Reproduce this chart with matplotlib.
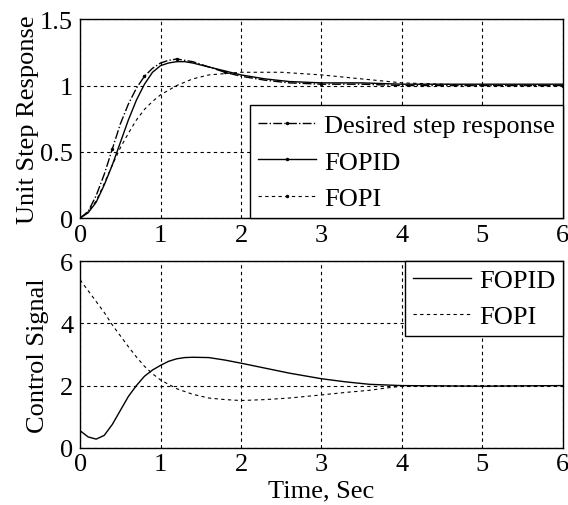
import numpy as np
import matplotlib
matplotlib.use('Agg')
import matplotlib.pyplot as plt

plt.rcParams['font.family'] = ['Liberation Serif', 'DejaVu Serif']
plt.rcParams['font.size'] = 19

# step responses
t_des = [0, 0.1, 0.2, 0.3, 0.4, 0.5, 0.6, 0.7, 0.8, 0.9, 1.0, 1.1, 1.2, 1.3, 1.4, 1.6,
         1.8, 2.0, 2.3, 2.6, 3.0, 3.5, 4.0, 5.0, 6.0]
y_des = [0, 0.05, 0.17, 0.33, 0.52, 0.71, 0.86, 0.98, 1.07, 1.13, 1.17, 1.19, 1.2, 1.19, 1.18,
         1.14, 1.1, 1.07, 1.04, 1.02, 1.01, 1.01, 1.0, 1.0, 1.0]
t_fopid = [0, 0.1, 0.2, 0.3, 0.4, 0.5, 0.6, 0.7, 0.8, 0.9, 1.0, 1.1, 1.2, 1.3, 1.4, 1.6,
           1.8, 2.0, 2.3, 2.6, 3.0, 3.5, 4.0, 5.0, 6.0]
y_fopid = [0, 0.04, 0.12, 0.25, 0.4, 0.57, 0.74, 0.89, 1.01, 1.1, 1.15, 1.17, 1.18, 1.18, 1.17,
           1.14, 1.11, 1.08, 1.05, 1.03, 1.02, 1.02, 1.01, 1.01, 1.01]
t_fopi = [0, 0.1, 0.2, 0.3, 0.4, 0.5, 0.6, 0.7, 0.8, 0.9, 1.0, 1.2, 1.4, 1.6, 1.8, 2.0,
          2.5, 3.0, 3.5, 4.0, 5.0, 6.0]
y_fopi = [0, 0.05, 0.13, 0.26, 0.4, 0.53, 0.64, 0.74, 0.82, 0.88, 0.93, 1.0, 1.05, 1.08, 1.09, 1.1,
          1.1, 1.08, 1.05, 1.02, 1.0, 1.0]

# control signals
t_u1 = [0, 0.1, 0.2, 0.3, 0.4, 0.5, 0.6, 0.7, 0.8, 0.9, 1.0, 1.1, 1.2, 1.3, 1.4, 1.6,
        1.8, 2.0, 2.3, 2.6, 3.0, 3.3, 3.6, 4.0, 5.0, 6.0]
u_fopid = [0.55, 0.35, 0.28, 0.4, 0.75, 1.2, 1.65, 2.0, 2.3, 2.5, 2.65, 2.78, 2.86, 2.9, 2.91, 2.9,
           2.82, 2.72, 2.56, 2.4, 2.22, 2.12, 2.04, 2.0, 1.98, 2.0]
t_u2 = [0, 0.1, 0.2, 0.3, 0.4, 0.5, 0.6, 0.7, 0.8, 0.9, 1.0, 1.2, 1.4, 1.6, 1.8, 2.0,
        2.3, 2.6, 3.0, 3.3, 3.6, 3.8, 4.0, 5.0, 6.0]
u_fopi = [5.4, 5.05, 4.7, 4.35, 3.95, 3.6, 3.25, 2.92, 2.62, 2.38, 2.18, 1.9, 1.72, 1.6, 1.55, 1.52,
          1.55, 1.6, 1.7, 1.78, 1.85, 1.92, 1.98, 2.0, 2.0]

fig = plt.figure(figsize=(5.68, 5.06), dpi=100)
ax1 = fig.add_axes([0.141, 0.567, 0.850, 0.393])
ax2 = fig.add_axes([0.141, 0.113, 0.850, 0.369])

ax1.plot(t_des, y_des, '-.', color='k', lw=1, marker='.', ms=3, markevery=4,
         label='Desired step response')
ax1.plot(t_fopid, y_fopid, '-', color='k', lw=1, marker='.', ms=3, markevery=50,
         label='FOPID')
ax1.plot(t_fopi, y_fopi, '--', color='k', lw=0.8, dashes=(3, 3), marker='.', ms=3,
         markevery=50, label='FOPI')
ax1.set_xlim(0, 6)
ax1.set_ylim(0, 1.5)
ax1.set_yticks([0, 0.5, 1, 1.5])
ax1.set_yticklabels(['0', '0.5', '1', '1.5'])
ax1.set_ylabel('Unit Step Response', labelpad=1)

ax2.plot(t_u1, u_fopid, '-', color='k', lw=1, label='FOPID')
ax2.plot(t_u2, u_fopi, '--', color='k', lw=0.8, dashes=(3, 3), label='FOPI')
ax2.set_xlim(0, 6)
ax2.set_ylim(0, 6)
ax2.set_yticks([0, 2, 4, 6])
ax2.set_ylabel('Control Signal', labelpad=8)
ax2.set_xlabel('Time, Sec', labelpad=3)

for ax in (ax1, ax2):
    ax.set_xticks([0, 1, 2, 3, 4, 5, 6])
    ax.grid(True, color='k', linestyle=(0, (3, 3)), linewidth=0.8)
    ax.tick_params(axis='x', direction='in', length=0, pad=4)
    ax.tick_params(axis='y', direction='in', length=0, pad=5)
    for s in ax.spines.values():
        s.set_linewidth(1)

leg1 = ax1.legend(loc='lower right', fancybox=False, edgecolor='k', framealpha=1,
                  borderaxespad=0, handlelength=2.2, labelspacing=0.5, borderpad=0.3,
                  handletextpad=0.3)
leg1.get_frame().set_linewidth(1)
leg2 = ax2.legend(loc='upper right', fancybox=False, edgecolor='k', framealpha=1,
                  borderaxespad=0, handlelength=2.2, labelspacing=0.45, borderpad=0.3,
                  handletextpad=0.3)
leg2.get_frame().set_linewidth(1)

fig.savefig('out.png', dpi=100)
